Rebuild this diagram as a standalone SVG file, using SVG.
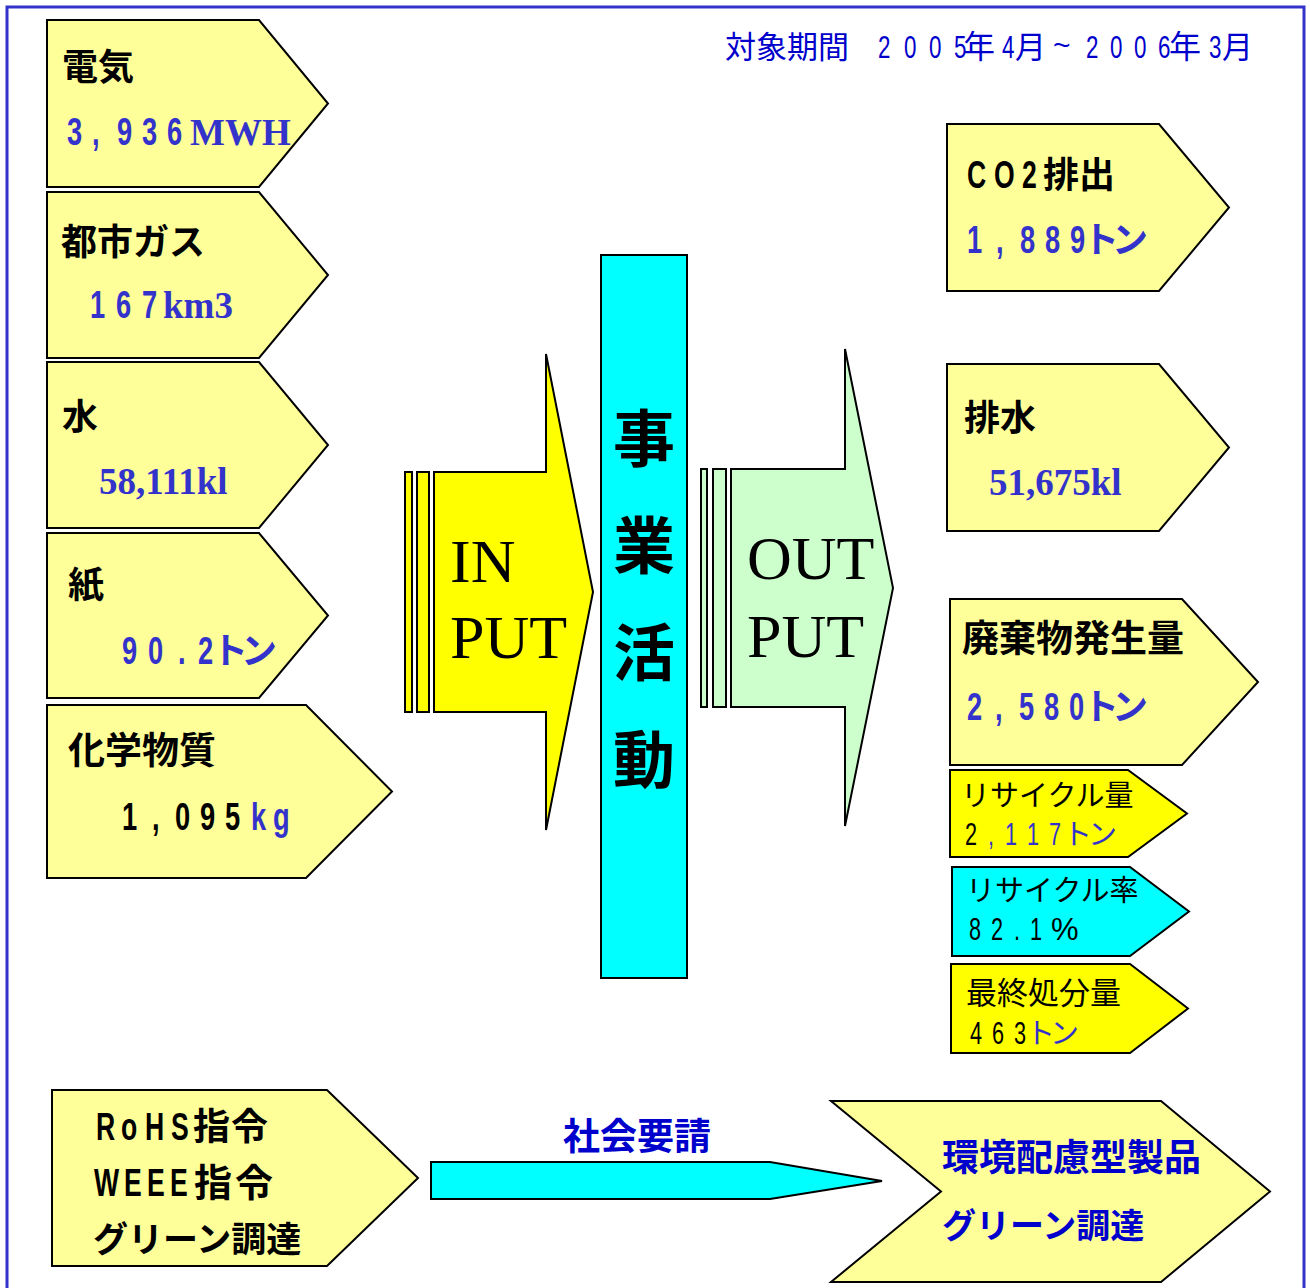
<svg xmlns="http://www.w3.org/2000/svg" width="1310" height="1288" viewBox="0 0 1310 1288">
<style>
.box{stroke:#000;stroke-width:2;stroke-linejoin:miter}
.pale{fill:#ffff99}.yel{fill:#ffff00}.cyan{fill:#00ffff}.grn{fill:#ccffcc}
.jb{font-family:"Noto Sans CJK JP","Noto Sans",sans-serif;font-weight:700}
.jr{font-family:"Noto Sans CJK JP","Noto Sans",sans-serif;font-weight:400}
.nb{font-family:"Liberation Sans",Arial,sans-serif;font-weight:700}
.nr{font-family:"Liberation Sans",Arial,sans-serif;font-weight:400}
.sb{font-family:"Liberation Serif","Times New Roman",serif;font-weight:700}
.sr{font-family:"Liberation Serif","Times New Roman",serif;font-weight:400}
.blue{fill:#3333cc}.dblue{fill:#0000cc}.blk{fill:#000}
</style>
<rect width="1310" height="1288" fill="#fff"/>
<path d="M7,1292 V7 H1304 V1292" fill="none" stroke="#3333cc" stroke-width="3"/>

<g id="header">
<text class="jr dblue" font-size="31" x="725" y="58">対象期間</text>
<text class="nr dblue" font-size="32" transform="translate(878,58) scale(0.7,1)" x="0 37.1 72.9 108.6">2005</text>
<text class="jr dblue" font-size="32" x="963" y="58">年</text>
<text class="nr dblue" font-size="32" transform="translate(1002,58) scale(0.7,1)" x="0">4</text>
<text class="jr dblue" font-size="31" x="1015" y="58">月</text>
<text class="nr dblue" font-size="30" x="1053" y="55">~</text>
<text class="nr dblue" font-size="32" transform="translate(1086,58) scale(0.7,1)" x="0 34.3 68.6 102.9">2006</text>
<text class="jr dblue" font-size="32" x="1169" y="58">年</text>
<text class="nr dblue" font-size="32" transform="translate(1209,58) scale(0.7,1)" x="0">3</text>
<text class="jr dblue" font-size="31" x="1222" y="58">月</text>
</g>

<g id="connectors">
<path class="box cyan" d="M431,1162 H770 L882,1181 L770,1199 H431 Z"/>
<text class="jb dblue" font-size="37" x="563" y="1150">社会要請</text>
</g>

<g id="in-electricity">
<path class="box pale" d="M47,20 H259 L328,103.5 L259,187 H47 Z"/>
<text class="jb blk" font-size="36" x="62" y="80">電気</text>
<text class="nb blue" font-size="39" transform="translate(67,145) scale(0.7,1)" x="0 35.7 71.4 107.1 142.9">3,936</text>
<text class="sb blue" font-size="37" x="190" y="145">MWH</text>
</g>

<g id="in-gas">
<path class="box pale" d="M47,192 H259 L328,275 L259,358 H47 Z"/>
<text class="jb blk" font-size="36" x="61" y="255">都市ガス</text>
<text class="nb blue" font-size="39" transform="translate(90,318) scale(0.7,1)" x="0 37.1 74.3">167</text>
<text class="sb blue" font-size="37" x="163" y="318">km3</text>
</g>

<g id="in-water">
<path class="box pale" d="M47,362 H259 L328,445 L259,528 H47 Z"/>
<text class="jb blk" font-size="36" x="62" y="430">水</text>
<text class="sb blue" font-size="37" x="99" y="494">58,111kl</text>
</g>

<g id="in-paper">
<path class="box pale" d="M47,533 H259 L328,615.5 L259,698 H47 Z"/>
<text class="jb blk" font-size="36" x="68" y="598">紙</text>
<text class="nb blue" font-size="39" transform="translate(122,664) scale(0.7,1)" x="0 37.1 80 108.6">90.2</text>
<text class="jb blue" font-size="36" x="212 241" y="664">トン</text>
</g>

<g id="in-chemicals">
<path class="box pale" d="M47,705 H306 L392,791.5 L306,878 H47 Z"/>
<text class="jb blk" font-size="37" x="68" y="764">化学物質</text>
<text class="nb blk" font-size="39" transform="translate(122,830) scale(0.7,1)" x="0 42.9 75.7 111.4 147.1">1,095</text>
<text class="nb blue" font-size="39" transform="translate(251,830) scale(0.7,1)" x="0 31.4">kg</text>
</g>

<g id="input-arrow">
<rect class="box yel" x="405" y="472" width="7" height="240"/>
<rect class="box yel" x="417" y="472" width="12" height="240"/>
<path class="box yel" d="M434,472 H546 V354 L593,592 L546,830 V712 H434 Z"/>
<text class="sr blk" font-size="62" x="450" y="582">IN</text>
<text class="sr blk" font-size="62" x="450" y="658">PUT</text>
</g>

<g id="business-activity">
<rect class="box cyan" x="601" y="255" width="86" height="723"/>
<g class="jb blk" font-size="62" text-anchor="middle">
<text x="644" y="462">事</text>
<text x="644" y="569">業</text>
<text x="644" y="676">活</text>
<text x="644" y="783">動</text>
</g>
</g>

<g id="output-arrow">
<rect class="box grn" x="701" y="469" width="6" height="238"/>
<rect class="box grn" x="713" y="469" width="13" height="238"/>
<path class="box grn" d="M731,469 H845 V349 L893,588 L845,826 V707 H731 Z"/>
<text class="sr blk" font-size="62" x="747" y="579">OUT</text>
<text class="sr blk" font-size="62" x="747" y="657">PUT</text>
</g>

<g id="out-co2">
<path class="box pale" d="M947,124 H1159 L1229,207.5 L1159,291 H947 Z"/>
<text class="nb blk" font-size="38" transform="translate(967,188) scale(0.7,1)" x="0 38.6 78.6">CO2</text>
<text class="jb blk" font-size="36" x="1043" y="188">排出</text>
<text class="nb blue" font-size="39" transform="translate(967,253) scale(0.7,1)" x="0 41.4 75.7 111.4 147.1">1,889</text>
<text class="jb blue" font-size="36" x="1083 1112" y="253">トン</text>
</g>

<g id="out-wastewater">
<path class="box pale" d="M947,364 H1159 L1229,447.5 L1159,531 H947 Z"/>
<text class="jb blk" font-size="36" x="964" y="431">排水</text>
<text class="sb blue" font-size="37" x="989" y="495">51,675kl</text>
</g>

<g id="out-waste">
<path class="box pale" d="M950,599 H1182 L1258,682 L1182,765 H950 Z"/>
<text class="jb blk" font-size="37" x="962" y="652">廃棄物発生量</text>
<text class="nb blue" font-size="39" transform="translate(967,720) scale(0.7,1)" x="0 40 74.3 110 145.7">2,580</text>
<text class="jb blue" font-size="36" x="1083 1112" y="720">トン</text>
</g>

<g id="out-recycle-amount">
<path class="box yel" d="M950,770 H1128 L1187,813.5 L1128,857 H950 Z"/>
<text class="jr blk" font-size="29" x="961" y="806">リサイクル量</text>
<text class="nr blk" font-size="31" transform="translate(965,845) scale(0.7,1)" x="0">2</text>
<text class="nr blue" font-size="31" transform="translate(988,845) scale(0.7,1)" x="0 24.3 55.7 87.1">,117</text>
<text class="jr blue" font-size="29" x="1063 1088" y="845">トン</text>
</g>

<g id="out-recycle-rate">
<path class="box cyan" d="M952,867 H1130 L1189,911.5 L1130,956 H952 Z"/>
<text class="jr blk" font-size="29" x="966" y="901">リサイクル率</text>
<text class="nr blk" font-size="31" transform="translate(969,940) scale(0.7,1)" x="0 31.4 64.3 87.1">82.1</text>
<text class="nr blk" font-size="31" x="1051" y="940">%</text>
</g>

<g id="out-final-disposal">
<path class="box yel" d="M951,964 H1130 L1188,1008.5 L1130,1053 H951 Z"/>
<text class="jr blk" font-size="31" x="966" y="1004">最終処分量</text>
<text class="nr blk" font-size="31" transform="translate(970,1044) scale(0.7,1)" x="0 31.4 62.9">463</text>
<text class="jr blue" font-size="29" x="1026 1050" y="1044">トン</text>
</g>

<g id="regulations">
<path class="box pale" d="M52,1090 H327 L418,1178 L327,1266 H52 Z"/>
<text class="nb blk" font-size="38" transform="translate(96,1140) scale(0.7,1)" x="0 35.7 70 107.1">RoHS</text>
<text class="jb blk" font-size="37" x="193 231" y="1140">指令</text>
<text class="nb blk" font-size="38" transform="translate(94,1196) scale(0.7,1)" x="0 42.9 75.7 108.6">WEEE</text>
<text class="jb blk" font-size="38" x="194 235" y="1196">指令</text>
<text class="jb blk" font-size="35" x="93" y="1252">グリーン調達</text>
</g>

<g id="eco-products">
<path class="box pale" d="M831,1101 H1161 L1270,1191.5 L1161,1282 H831 L941,1191.5 Z"/>
<text class="jb dblue" font-size="37" x="942" y="1171">環境配慮型製品</text>
<text class="jb dblue" font-size="34" x="942" y="1238">グリーン調達</text>
</g>
</svg>
